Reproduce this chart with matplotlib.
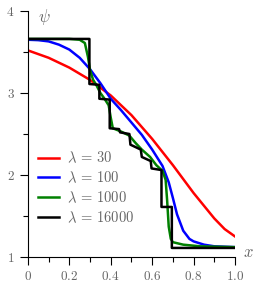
import numpy as np
import matplotlib
matplotlib.use('Agg')
from matplotlib import pyplot as plt

plt.rcParams['mathtext.fontset'] = 'cm'
plt.rcParams['font.family'] = ['DejaVu Serif']

# lambda = 30
x_30 = [0, 0.1, 0.2, 0.3, 0.4, 0.5, 0.6, 0.7, 0.8, 0.9, 0.95, 1.0]
psi_30 = [3.52, 3.43, 3.31, 3.16, 2.97, 2.73, 2.44, 2.12, 1.78, 1.47, 1.34, 1.25]

# lambda = 100
x_100 = [0, 0.05, 0.1, 0.15, 0.2, 0.25, 0.3, 0.35, 0.4, 0.45, 0.5, 0.55, 0.6,
         0.65, 0.68, 0.7, 0.72, 0.75, 0.78, 0.8, 0.85, 0.9, 1.0]
psi_100 = [3.65, 3.645, 3.63, 3.59, 3.53, 3.43, 3.29, 3.12, 2.93, 2.79, 2.64,
           2.49, 2.31, 2.11, 1.91, 1.72, 1.52, 1.32, 1.22, 1.19, 1.15, 1.13, 1.12]

# lambda = 1000
x_1000 = [0, 0.2, 0.25, 0.275, 0.29, 0.30, 0.315, 0.33, 0.35, 0.37, 0.39,
          0.40, 0.41, 0.45, 0.49, 0.52, 0.55, 0.59, 0.62, 0.65, 0.665, 0.672,
          0.68, 0.69, 0.70, 0.75, 0.83, 1.0]
psi_1000 = [3.66, 3.66, 3.65, 3.61, 3.44, 3.28, 3.16, 3.10, 3.00, 2.93, 2.85,
            2.70, 2.57, 2.53, 2.48, 2.39, 2.31, 2.22, 2.12, 2.05, 1.94, 1.70,
            1.37, 1.22, 1.18, 1.15, 1.13, 1.12]

# lambda = 16000 (nearly piecewise constant)
x_16000 = [0, 0.297, 0.297, 0.345, 0.345, 0.395, 0.395, 0.44, 0.445, 0.49,
           0.495, 0.545, 0.55, 0.593, 0.597, 0.645, 0.645, 0.695, 0.695, 1.0]
psi_16000 = [3.66, 3.66, 3.11, 3.10, 2.93, 2.92, 2.57, 2.56, 2.52, 2.50,
             2.37, 2.31, 2.22, 2.17, 2.08, 2.06, 1.61, 1.61, 1.11, 1.11]

xticks = [0, 0.2, 0.4, 0.6, 0.8, 1.0]
xtick_labels = ['$0$', '$0.2$', '$0.4$', '$0.6$', '$0.8$', '$1.0$']
yticks = [1, 2, 3, 4]
ytick_labels = ['$1$', '$2$', '$3$', '$4$']

fig = plt.figure(figsize=(2.56, 2.91), dpi=100)
ax = fig.add_axes([0.109, 0.117, 0.809, 0.845])

lw = 1.8
ax.plot(x_30, psi_30, color='red', lw=lw, label=r'$\lambda\,=\,30$')
ax.plot(x_100, psi_100, color='blue', lw=lw, label=r'$\lambda\,=\,100$')
ax.plot(x_1000, psi_1000, color='green', lw=lw, label=r'$\lambda\,=\,1000$')
ax.plot(x_16000, psi_16000, color='black', lw=lw, label=r'$\lambda\,=\,16000$')

ax.set_xlim(0, 1)
ax.set_ylim(1, 4)
ax.set_xticks(xticks)
ax.set_xticklabels(xtick_labels)
ax.set_xticks(np.arange(0.1, 1.0, 0.2), minor=True)
ax.set_yticks(yticks)
ax.set_yticklabels(ytick_labels)
ax.set_yticks([1.5, 2.5, 3.5], minor=True)

for s in ['top', 'right']:
    ax.spines[s].set_visible(False)
ax.tick_params(which='major', length=5.5, width=0.8, labelsize=9.5,
               labelcolor='0.4', pad=4)
ax.tick_params(which='minor', length=3.5, width=0.8)

ax.text(0.05, 0.975, r'$\psi$', transform=ax.transAxes, fontsize=12,
        color='0.4', va='center', ha='left')
ax.text(1.04, 0.02, r'$x$', transform=ax.transAxes, fontsize=12,
        color='0.4', va='center', ha='left', clip_on=False)

leg = ax.legend(loc='upper left', bbox_to_anchor=(0.0, 0.475), frameon=False,
                fontsize=10.5, handlelength=1.45, handletextpad=0.55,
                labelspacing=0.3, borderaxespad=0.3)
for t in leg.get_texts():
    t.set_color('0.4')

fig.savefig('out.png', dpi=100)
